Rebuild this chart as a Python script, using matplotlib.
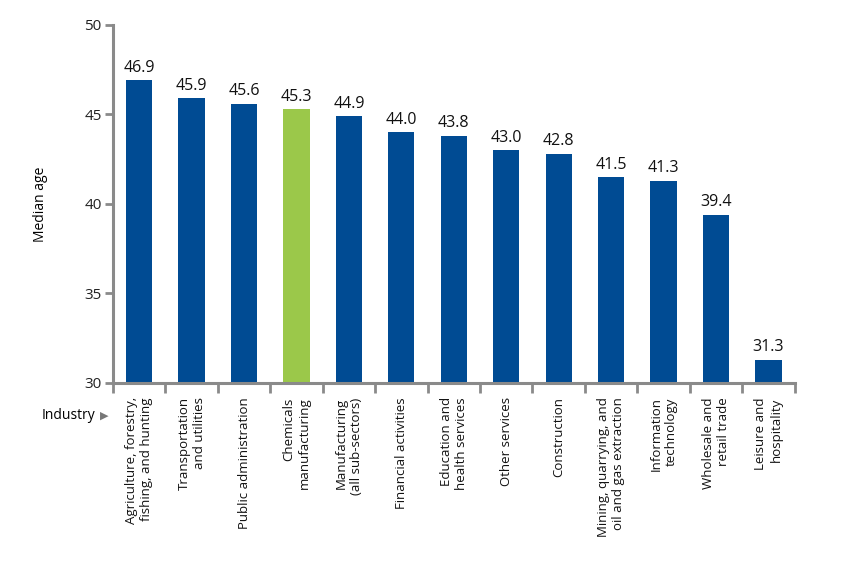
import numpy as np
import matplotlib.pyplot as plt

plt.rcParams['font.family'] = ['Open Sans', 'DejaVu Sans']

industries = [
    "Agriculture, forestry,\nfishing, and hunting",
    "Transportation\nand utilities",
    "Public administration",
    "Chemicals\nmanufacturing",
    "Manufacturing\n(all sub-sectors)",
    "Financial activities",
    "Education and\nhealth services",
    "Other services",
    "Construction",
    "Mining, quarrying, and\noil and gas extraction",
    "Information\ntechnology",
    "Wholesale and\nretail trade",
    "Leisure and\nhospitality",
]
median_age = [46.9, 45.9, 45.6, 45.3, 44.9, 44.0, 43.8, 43.0, 42.8, 41.5, 41.3, 39.4, 31.3]
highlight = "Chemicals\nmanufacturing"

blue = "#004B93"
green = "#9BC84A"
axis_grey = "#8A8A8A"

fig = plt.figure(figsize=(8.49, 5.64), dpi=100)
ax = fig.add_axes([0.133, 0.321, 0.803, 0.635])

x = np.arange(len(industries))
colors = [green if c == highlight else blue for c in industries]
bars = ax.bar(x, np.array(median_age) - 30, bottom=30, width=0.5, color=colors)

for xi, v in zip(x, median_age):
    ax.text(xi, v + 0.25, f"{v:.1f}", ha="center", va="bottom", fontsize=11.5, color="#111111")

ax.set_xlim(-0.5, len(industries) - 0.5)
ax.set_ylim(30, 50)
ax.set_yticks([30, 35, 40, 45, 50])
ax.tick_params(axis="y", direction="out", length=6, width=2, color=axis_grey,
               labelsize=11, pad=2, labelcolor="#222222")

# category boundaries as tick marks
ax.set_xticks(np.arange(len(industries) + 1) - 0.5)
ax.set_xticklabels([])
ax.tick_params(axis="x", direction="out", length=7, width=2, color=axis_grey)

for xi, lab in zip(x, industries):
    ax.text(xi, -0.04, lab, transform=ax.get_xaxis_transform(), rotation=90,
            ha="center", va="top", multialignment="right", fontsize=9.5, color="#111111")

for s in ["top", "right"]:
    ax.spines[s].set_visible(False)
for s in ["left", "bottom"]:
    ax.spines[s].set_color(axis_grey)
    ax.spines[s].set_linewidth(2.2)

ax.set_ylabel("Median age", fontsize=10, labelpad=26)
fig.text(0.049, 0.263, "Industry", fontsize=10, ha="left", va="center")
fig.text(0.118, 0.263, "\u25B6", fontsize=8, ha="left", va="center", color="#777777",
         family="DejaVu Sans")

fig.savefig("out.png", dpi=100)
